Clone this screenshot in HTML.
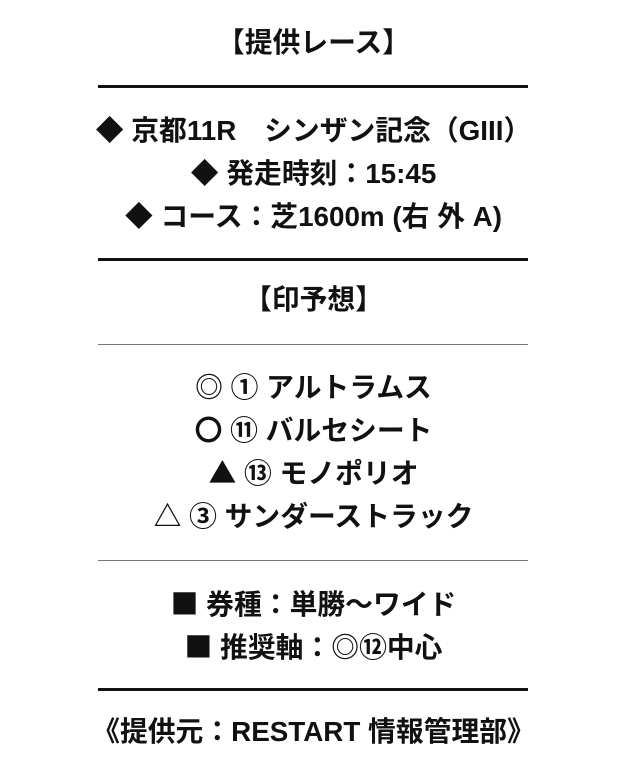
<!DOCTYPE html>
<html><head><meta charset="utf-8"><style>
body{margin:0;width:640px;height:775px;background:#fff;position:relative;overflow:hidden;font-family:"Liberation Sans","Noto Sans CJK JP",sans-serif;font-weight:bold;color:#111}
.t{position:absolute;left:0;width:627px;text-align:center;font-size:27.8px;line-height:30px;white-space:nowrap}
.s{font-family:"Noto Sans CJK JP",sans-serif}
.h{position:absolute;left:98px;width:430px;background:#111}
.k{height:3px}.n{height:1px;background:#777}
</style></head><body>
<div class="t" style="top:28px">【提供レース】</div>
<div class="h k" style="top:85px"></div>
<div class="t" style="top:114px"><span class="s">◆</span> 京都11R　シンザン記念（GIII）</div>
<div class="t" style="top:157px"><span class="s">◆</span> 発走時刻：15:45</div>
<div class="t" style="top:200px"><span class="s">◆</span> コース：芝1600m (右 外 A)</div>
<div class="h k" style="top:258px"></div>
<div class="t" style="top:285px">【印予想】</div>
<div class="h n" style="top:344px"></div>
<div class="t" style="top:371px"><span class="s">◎</span> ① アルトラムス</div>
<div class="t" style="top:414px"><span class="s">〇</span> ⑪ バルセシート</div>
<div class="t" style="top:457px"><span class="s">▲</span> ⑬ モノポリオ</div>
<div class="t" style="top:500px"><span class="s">△</span> ③ サンダーストラック</div>
<div class="h n" style="top:560px"></div>
<div class="t" style="top:588px"><span class="s">■</span> 券種：単勝～ワイド</div>
<div class="t" style="top:631px"><span class="s">■</span> 推奨軸：<span class="s">◎</span>⑫中心</div>
<div class="h k" style="top:688px"></div>
<div class="t" style="top:717px">《提供元：RESTART 情報管理部》</div>
</body></html>
